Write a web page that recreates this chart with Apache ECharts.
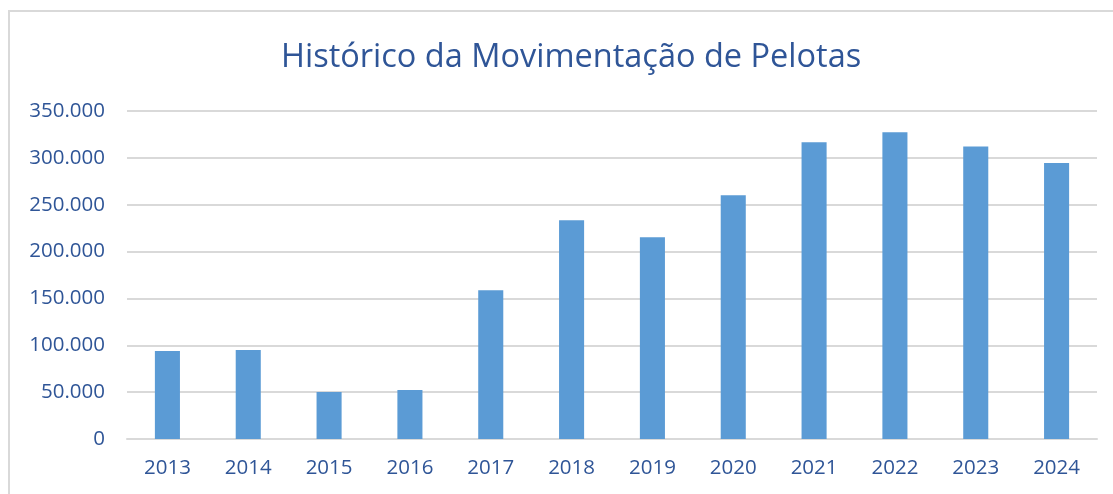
<!DOCTYPE html>
<html>
<head>
<meta charset="utf-8">
<script src="https://cdn.jsdelivr.net/npm/echarts@6/dist/echarts.min.js"></script>
<style>
  html, body { margin: 0; padding: 0; background: #fff; }
  #chart { width: 1113px; height: 494px; }
</style>
</head>
<body>
<div id="chart"></div>
<script>
// dados
const anos = ['2013','2014','2015','2016','2017','2018','2019','2020','2021','2022','2023','2024'];
const movimentacao = [93900, 95000, 50200, 52300, 158700, 233400, 215300, 260100, 316600, 327300, 312000, 294600];

const AZUL = '#5B9BD5';
const TEXTO = '#2F5597';
const GRADE = '#D9D9D9';

const chart = echarts.init(document.getElementById('chart'));

const option = {
    animation: false,
    textStyle: {
        fontFamily: 'Open Sans',
    },
    title: {
        text: 'Histórico da Movimentação de Pelotas',
        left: 276,
        top: 36,
        textStyle: {
            color: TEXTO,
            fontSize: 32.5,
            fontWeight: 'normal',
            fontFamily: 'Open Sans',
        }
    },
    grid: {
        left: 127,
        right: 16,
        top: 111,
        bottom: 55,
    },
    xAxis: {
        type: 'category',
        data: anos,
        axisLine: {
            lineStyle: { color: GRADE, width: 2 }
        },
        axisTick: { show: false },
        axisLabel: {
            color: TEXTO,
            fontSize: 20.5,
            margin: 19,
        },
    },
    yAxis: {
        type: 'value',
        min: 0,
        max: 350000,
        interval: 50000,
        axisLine: { show: false },
        axisTick: { show: false },
        axisLabel: {
            color: TEXTO,
            fontSize: 20.5,
            margin: 22,
            formatter: function (v) {
                return v === 0 ? '0' : v.toLocaleString('pt-BR');
            }
        },
        splitLine: {
            lineStyle: { color: GRADE, width: 2 }
        },
    },
    series: [
        {
            name: 'Movimentação',
            type: 'bar',
            data: movimentacao,
            barWidth: '31%',
            itemStyle: {
                color: AZUL,
            },
        }
    ],
    // moldura do gráfico (só topo e esquerda aparecem no recorte)
    graphic: [
        {
            type: 'polyline',
            shape: { points: [[9, 494], [9, 11], [1113, 11]] },
            style: { fill: 'none', stroke: GRADE, lineWidth: 2 },
            silent: true,
        }
    ]
};

chart.setOption(option);
</script>
</body>
</html>
